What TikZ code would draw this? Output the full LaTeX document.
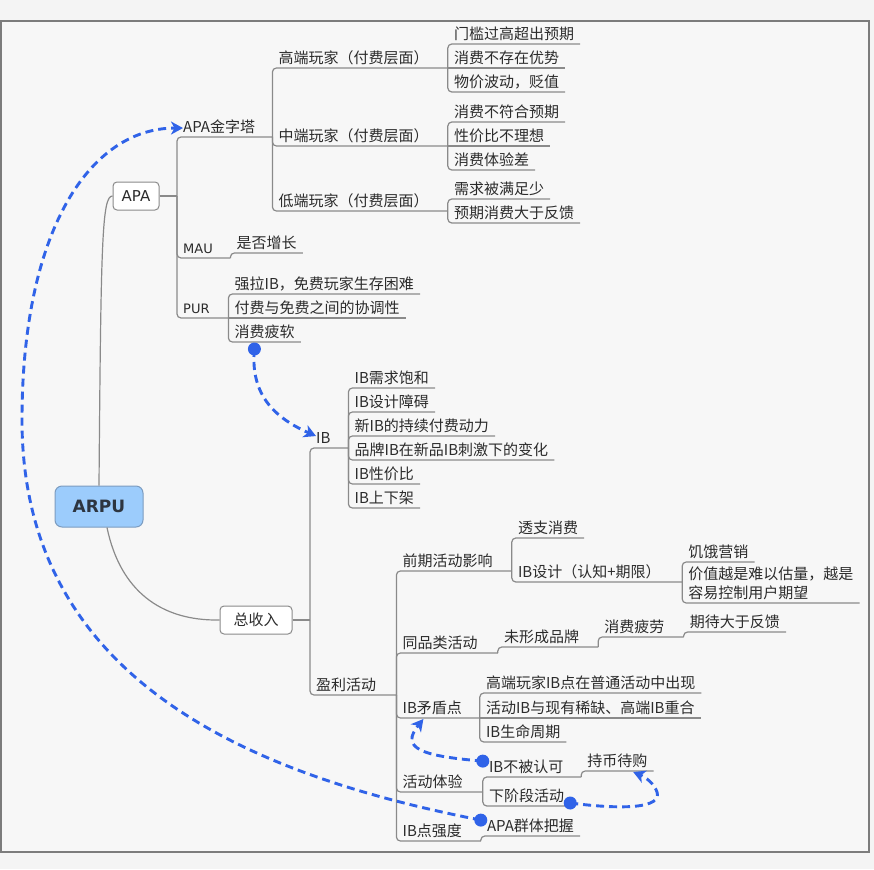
\documentclass[tikz,border=0pt]{standalone}
\usepackage{fontspec}
\setmainfont{Noto Sans CJK SC}
\newfontfamily\latinfont{DejaVu Sans}
\usetikzlibrary{arrows.meta}
\definecolor{pagec}{HTML}{F4F4F4}
\definecolor{insidec}{HTML}{F7F7F7}
\definecolor{framec}{HTML}{7C7C7C}
\definecolor{linec}{HTML}{8A8A8A}
\definecolor{txtc}{HTML}{2B2B2B}
\definecolor{rootc}{HTML}{9CCCFC}
\definecolor{rootline}{HTML}{7C9CC0}
\definecolor{rootdark}{HTML}{2D3540}
\definecolor{linkc}{HTML}{3063E8}

\tikzset{
  topic/.style={anchor=south west, inner xsep=6pt, inner ysep=1.5pt, text height=11.5pt, text depth=3pt, text=txtc, font=\fontsize{15pt}{19pt}\selectfont},
  span/.style={text width=#1, align=left},
  latin/.style={font=\latinfont\fontsize{13pt}{16pt}\selectfont},
  branch/.style={draw=linec, line width=1.2pt, rounded corners=4pt},
  box/.style={draw=linec, fill=white, line width=1pt, rounded corners=4pt, minimum height=28pt, inner sep=0pt, text=txtc},
  link/.style={draw=linkc, line width=2.9pt, dash pattern=on 8pt off 5pt, -{Stealth[length=12pt,width=13pt,inset=3.5pt]}},
}

\begin{document}
\begin{tikzpicture}[x=1pt, y=-1pt]
  \useasboundingbox[fill=pagec] (0,0) rectangle (874,869);
  \draw[framec, fill=insidec, line width=1.3pt] (1,21) rectangle (869,852);

  % root and main boxes
  \node[box, minimum width=88pt, minimum height=41pt, fill=rootc, draw=rootline, rounded corners=7pt, text=rootdark, font=\latinfont\bfseries\fontsize{17pt}{20pt}\selectfont] (arpu) at (99,506.5) {ARPU};
  \node[box, minimum width=46pt, font=\latinfont\fontsize{15pt}{18pt}\selectfont] (apa) at (136,196) {APA};
  \node[box, minimum width=72pt, font=\fontsize{15pt}{19pt}\selectfont] (inc) at (256,620) {总收入};
  \coordinate (apaS) at (177,196);
  \coordinate (incS) at (310,620);

  \draw[linec, line width=1.2pt] (arpu.north) .. controls (101,240) and (102,196) .. (apa.west);
  \draw[linec, line width=1.2pt] ([xshift=8pt]arpu.south) .. controls (120,590) and (160,621) .. (inc.west);
  \draw[branch] (apa.east) -- (apaS);
  \draw[branch] (inc.east) -- (incS);

  % APA
  \node[topic, span=83pt] (pyr) at (apaS |- 0,137) {APA金字塔};
  \node[topic, latin, span=41pt] (mau) at (apaS |- 0,258) {MAU};
  \node[topic, latin, span=39pt] (pur) at (apaS |- 0,318) {PUR};
  \draw[branch] (apaS) |- (pyr.south east);
  \draw[branch] (apaS) |- (mau.south east);
  \draw[branch] (apaS) |- (pur.south east);

  \node[topic, span=163pt] (hi) at (pyr.south east |- 0,68) {高端玩家（付费层面）};
  \node[topic, span=163pt] (mid) at (pyr.south east |- 0,146) {中端玩家（付费层面）};
  \node[topic, span=163pt] (lo) at (pyr.south east |- 0,211) {低端玩家（付费层面）};
  \draw[branch] (pyr.south east) |- (hi.south east);
  \draw[branch] (pyr.south east) |- (mid.south east);
  \draw[branch] (pyr.south east) |- (lo.south east);

  \node[topic] (hi1) at (hi.south east |- 0,44) {门槛过高超出预期};
  \node[topic] (hi2) at (hi.south east |- 0,68) {消费不存在优势};
  \node[topic] (hi3) at (hi.south east |- 0,92) {物价波动，贬值};
  \draw[branch] (hi.south east) |- (hi1.south east);
  \draw[branch] (hi.south east) -- (hi2.south east);
  \draw[branch] (hi.south east) |- (hi3.south east);

  \node[topic] (mid1) at (mid.south east |- 0,122) {消费不符合预期};
  \node[topic] (mid2) at (mid.south east |- 0,146) {性价比不理想};
  \node[topic] (mid3) at (mid.south east |- 0,170) {消费体验差};
  \draw[branch] (mid.south east) |- (mid1.south east);
  \draw[branch] (mid.south east) -- (mid2.south east);
  \draw[branch] (mid.south east) |- (mid3.south east);

  \node[topic] (lo1) at (lo.south east |- 0,199) {需求被满足少};
  \node[topic] (lo2) at (lo.south east |- 0,223) {预期消费大于反馈};
  \draw[branch] (lo.south east) |- (lo1.south east);
  \draw[branch] (lo.south east) |- (lo2.south east);

  \node[topic] (grow) at (mau.south east |- 0,253) {是否增长};
  \draw[branch] (mau.south east) |- (grow.south east);

  \node[topic] (pur1) at (pur.south east |- 0,294) {强拉IB，免费玩家生存困难};
  \node[topic] (pur2) at (pur.south east |- 0,318) {付费与免费之间的协调性};
  \node[topic] (sf) at (pur.south east |- 0,342) {消费疲软};
  \draw[branch] (pur.south east) |- (pur1.south east);
  \draw[branch] (pur.south east) -- (pur2.south east);
  \draw[branch] (pur.south east) |- (sf.south east);

  % 总收入
  \node[topic, span=26pt] (ib) at (incS |- 0,448) {IB};
  \node[topic, span=74pt] (prof) at (incS |- 0,695) {盈利活动};
  \draw[branch] (incS) |- (ib.south east);
  \draw[branch] (incS) |- (prof.south east);

  \node[topic] (ib1) at (ib.south east |- 0,388) {IB需求饱和};
  \node[topic] (ib2) at (ib.south east |- 0,412) {IB设计障碍};
  \node[topic] (ib3) at (ib.south east |- 0,436) {新IB的持续付费动力};
  \node[topic] (ib4) at (ib.south east |- 0,460) {品牌IB在新品IB刺激下的变化};
  \node[topic] (ib5) at (ib.south east |- 0,484) {IB性价比};
  \node[topic] (ib6) at (ib.south east |- 0,508) {IB上下架};
  \draw[branch] (ib.south east) |- (ib1.south east);
  \draw[branch] (ib.south east) |- (ib2.south east);
  \draw[branch] (ib.south east) |- (ib3.south east);
  \draw[branch] (ib.south east) |- (ib4.south east);
  \draw[branch] (ib.south east) |- (ib5.south east);
  \draw[branch] (ib.south east) |- (ib6.south east);

  \node[topic, span=103pt] (early) at (prof.south east |- 0,571) {前期活动影响};
  \node[topic, span=89pt] (same) at (prof.south east |- 0,653) {同品类活动};
  \node[topic, span=71pt] (conf) at (prof.south east |- 0,718) {IB矛盾点};
  \node[topic, span=74pt] (exp) at (prof.south east |- 0,792) {活动体验};
  \node[topic, span=72pt] (str) at (prof.south east |- 0,841) {IB点强度};
  \draw[branch] (prof.south east) |- (early.south east);
  \draw[branch] (prof.south east) |- (same.south east);
  \draw[branch] (prof.south east) |- (conf.south east);
  \draw[branch] (prof.south east) |- (exp.south east);
  \draw[branch] (prof.south east) |- (str.south east);

  \node[topic] (over) at (early.south east |- 0,538) {透支消费};
  \node[topic, span=158pt] (design) at (early.south east |- 0,582) {IB设计（认知+期限）};
  \draw[branch] (early.south east) |- (over.south east);
  \draw[branch] (early.south east) |- (design.south east);

  \node[topic] (hunger) at (design.south east |- 0,562) {饥饿营销};
  \node[topic, align=left, text height=30.5pt] (value) at (design.south east |- 0,603) {价值越是难以估量，越是\\容易控制用户期望};
  \draw[branch] (design.south east) |- (hunger.south east);
  \draw[branch] (design.south east) |- (value.south east);

  \node[topic, span=88pt] (nobrand) at (same.south east |- 0,647) {未形成品牌};
  \node[topic, span=73pt] (tired) at (nobrand.south east |- 0,637) {消费疲劳};
  \node[topic] (expect) at (tired.south east |- 0,632) {期待大于反馈};
  \draw[branch] (same.south east) |- (nobrand.south east);
  \draw[branch] (nobrand.south east) |- (tired.south east);
  \draw[branch] (tired.south east) |- (expect.south east);

  \node[topic] (conf1) at (conf.south east |- 0,693) {高端玩家IB点在普通活动中出现};
  \node[topic] (conf2) at (conf.south east |- 0,718) {活动IB与现有稀缺、高端IB重合};
  \node[topic] (conf3) at (conf.south east |- 0,742) {IB生命周期};
  \draw[branch] (conf.south east) |- (conf1.south east);
  \draw[branch] (conf.south east) -- (conf2.south east);
  \draw[branch] (conf.south east) |- (conf3.south east);

  \node[topic, span=86pt] (nrec) at (exp.south east |- 0,777) {IB不被认可};
  \node[topic] (next) at (exp.south east |- 0,806) {下阶段活动};
  \draw[branch] (exp.south east) |- (nrec.south east);
  \draw[branch] (exp.south east) |- (next.south east);

  \node[topic] (hold) at (nrec.south east |- 0,771) {持币待购};
  \draw[branch] (nrec.south east) |- (hold.south east);

  \node[topic] (grasp) at (str.south east |- 0,836) {APA群体把握};
  \draw[branch] (str.south east) |- (grasp.south east);

  % dashed relations
  \coordinate (graspDot) at ([yshift=-2pt]grasp.north west);
  \coordinate (sfDot) at ([xshift=26pt,yshift=-7pt]sf.south west);
  \coordinate (nrecDot) at ([yshift=-2pt]nrec.north west);
  \coordinate (nextDot) at ([yshift=3pt]next.south east);
  \foreach \d in {graspDot, sfDot, nrecDot, nextDot}
    \fill[linkc] (\d) circle (6.5pt);

  \draw[link] (graspDot) .. controls (250,775) and (22,680) .. (22,420) .. controls (22,230) and (90,128) .. ([xshift=6pt]pyr.west);
  \draw[link] (sfDot) .. controls (250,395) and (275,418) .. ([xshift=6pt,yshift=3pt]ib.west);
  \draw[link] (nrecDot) .. controls (420,756) and (400,748) .. ([xshift=27pt,yshift=-1pt]conf.south west);
  \draw[link] (nextDot) .. controls (625,810) and (662,808) .. (657,792) .. controls (654,783) and (645,777) .. ([xshift=52pt,yshift=-1pt]hold.south west);
\end{tikzpicture}
\end{document}
